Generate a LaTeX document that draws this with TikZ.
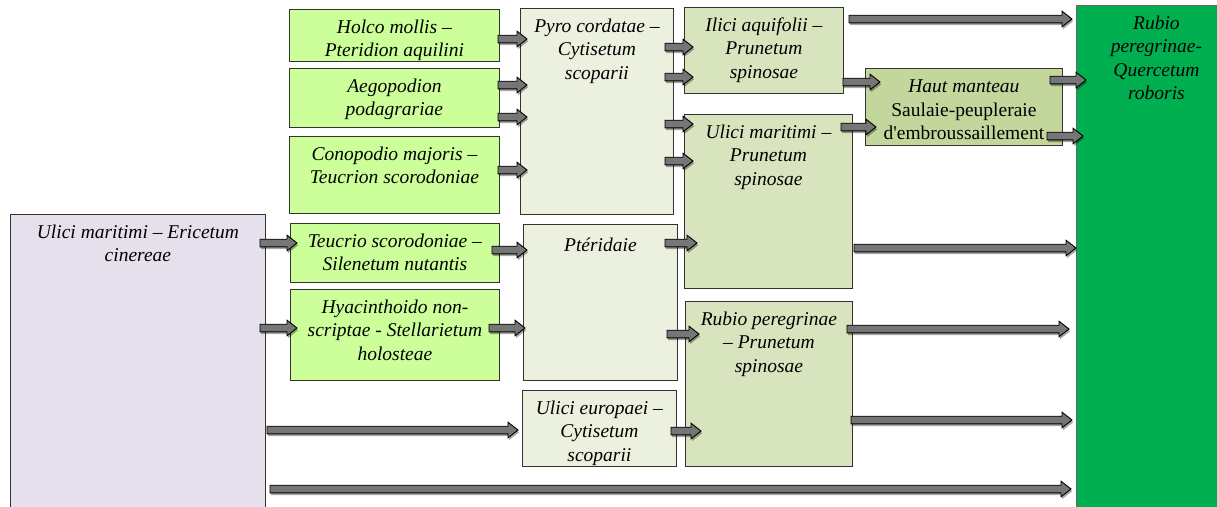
\documentclass[tikz,border=0pt]{standalone}
\usepackage{fontspec}
\setmainfont{Liberation Serif}
\usetikzlibrary{shadows,calc}
\definecolor{lgreen}{RGB}{204,255,153}
\definecolor{pale}{RGB}{235,241,222}
\definecolor{olive}{RGB}{215,228,189}
\definecolor{haut}{RGB}{195,214,155}
\definecolor{forest}{RGB}{0,176,80}
\definecolor{lav}{RGB}{229,224,236}
\definecolor{arrgray}{RGB}{118,118,118}
\tikzset{
  box/.style={draw=black!80, line width=0.8pt, rectangle, anchor=north west, inner sep=0pt},
  lbl/.style={anchor=north, inner sep=0pt, yshift=-10.5pt, align=center,
    font=\fontsize{19.5}{23.5}\selectfont\itshape, execute at begin node=\strut},
  barrow/.style={draw=black, line width=0.9pt, fill=arrgray, line join=miter,
    drop shadow={shadow xshift=1.2pt, shadow yshift=-2.2pt, opacity=0.35, fill=black}}
}
% block arrow from coordinate #1 to coordinate #2 (same height)
\newcommand\barr[2]{\path[barrow] let \p1=(#1), \p2=(#2) in
  (\x1,\y1+3.8) -- (\x2-10,\y1+3.8) -- (\x2-10,\y1+7.8) -- (\x2,\y1) --
  (\x2-10,\y1-7.8) -- (\x2-10,\y1-3.8) -- (\x1,\y1-3.8) -- cycle;}
\newcommand\bx[7]{% name, x, y, w, h, fill, text
  \node[box, fill=#6, minimum width=#4pt, minimum height=#5pt,
    label={[lbl]north:{#7}}] (#1) at (#2,#3) {};}
\begin{document}
\begin{tikzpicture}[x=1pt,y=-1pt]
\path[use as bounding box, clip] (0,0) rectangle (1217,506);
\fill[white] (0,0) rectangle (1217,506);
% boxes
\bx{holco}{289}{9}{210}{52}{lgreen}{Holco mollis –\\Pteridion aquilini}
\bx{aego}{289}{68}{210}{59}{lgreen}{Aegopodion\\podagrariae}
\bx{cono}{289}{136}{210}{77}{lgreen}{Conopodio majoris –\\Teucrion scorodoniae}
\bx{teuc}{290}{223}{209}{59}{lgreen}{Teucrio scorodoniae –\\Silenetum nutantis}
\bx{hyac}{290}{289}{209}{91}{lgreen}{Hyacinthoido non-\\scriptae - Stellarietum\\holosteae}
\bx{pyro}{520}{8}{153}{206}{pale}{Pyro cordatae –\\Cytisetum\\scoparii}
\bx{pter}{523}{224}{154}{156}{pale}{Ptéridaie}
\bx{ueur}{522}{390}{154}{76}{pale}{Ulici europaei –\\Cytisetum\\scoparii}
\bx{ilici}{684}{7}{159}{86}{olive}{Ilici aquifolii –\\Prunetum\\spinosae}
\bx{umar}{684}{114}{168}{174}{olive}{Ulici maritimi –\\Prunetum\\spinosae}
\bx{rpru}{685}{301}{167}{165}{olive}{Rubio peregrinae\\– Prunetum\\spinosae}
\node[box, fill=haut, minimum width=197pt, minimum height=77pt,
  label={[lbl, yshift=-1.5pt]north:{Haut manteau\\\upshape Saulaie-peupleraie\\\upshape d\textquotesingle embroussaillement}}] (haut) at (865,68) {};
\node[box, draw=black!60, fill=forest, minimum width=160pt, minimum height=520pt,
  label={[lbl]north:{Rubio\\peregrinae-\\Quercetum\\roboris}}] (rq) at (1076,5) {};
\node[box, draw=black!80, fill=lav, minimum width=255pt, minimum height=310pt,
  label={[lbl]north:{Ulici maritimi – Ericetum\\cinereae}}] (uer) at (10,214) {};
% arrow end points
\coordinate (a1s) at (498,39); \coordinate (a1e) at (527,39);
\coordinate (a2s) at (498,85); \coordinate (a2e) at (527,85);
\coordinate (a3s) at (498,117); \coordinate (a3e) at (527,117);
\coordinate (a4s) at (498,170); \coordinate (a4e) at (527,170);
\coordinate (b1s) at (665,47); \coordinate (b1e) at (693,47);
\coordinate (b2s) at (665,77); \coordinate (b2e) at (693,77);
\coordinate (b3s) at (665,124); \coordinate (b3e) at (693,124);
\coordinate (b4s) at (665,161); \coordinate (b4e) at (693,161);
\coordinate (c1s) at (843,82); \coordinate (c1e) at (880,82);
\coordinate (c2s) at (841,127); \coordinate (c2e) at (876,127);
\coordinate (top) at (849,19); \coordinate (tope) at (1072,19);
\coordinate (d1s) at (1050,80); \coordinate (d1e) at (1086,80);
\coordinate (d2s) at (1047,136); \coordinate (d2e) at (1083,136);
\coordinate (e1s) at (260,243); \coordinate (e1e) at (297,243);
\coordinate (e2s) at (260,328); \coordinate (e2e) at (297,328);
\coordinate (e3s) at (267,430); \coordinate (e3e) at (518,430);
\coordinate (e4s) at (270,489); \coordinate (e4e) at (1071,489);
\coordinate (f1s) at (492,250); \coordinate (f1e) at (527,250);
\coordinate (f2s) at (489,328); \coordinate (f2e) at (525,328);
\coordinate (g1s) at (665,243); \coordinate (g1e) at (697,243);
\coordinate (g2s) at (667,334); \coordinate (g2e) at (699,334);
\coordinate (g3s) at (671,431); \coordinate (g3e) at (701,431);
\coordinate (h1s) at (854,248); \coordinate (h1e) at (1076,248);
\coordinate (h2s) at (847,329); \coordinate (h2e) at (1069,329);
\coordinate (h3s) at (851,420); \coordinate (h3e) at (1072,420);
% arrows
\barr{a1s}{a1e}\barr{a2s}{a2e}\barr{a3s}{a3e}\barr{a4s}{a4e}
\barr{b1s}{b1e}\barr{b2s}{b2e}\barr{b3s}{b3e}\barr{b4s}{b4e}
\barr{c1s}{c1e}\barr{c2s}{c2e}
\barr{top}{tope}
\barr{d1s}{d1e}\barr{d2s}{d2e}
\barr{e1s}{e1e}\barr{e2s}{e2e}\barr{e3s}{e3e}\barr{e4s}{e4e}
\barr{f1s}{f1e}\barr{f2s}{f2e}
\barr{g1s}{g1e}\barr{g2s}{g2e}\barr{g3s}{g3e}
\barr{h1s}{h1e}\barr{h2s}{h2e}\barr{h3s}{h3e}
\end{tikzpicture}
\end{document}
